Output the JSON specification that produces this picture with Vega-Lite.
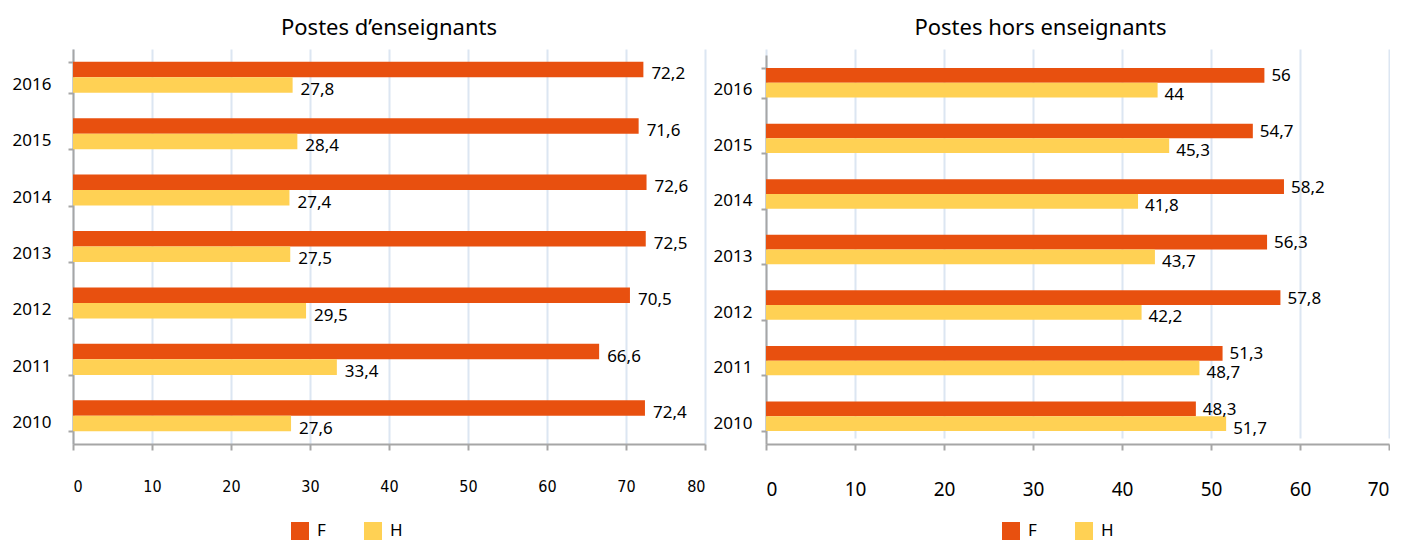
{
 "$schema": "https://vega.github.io/schema/vega-lite/v6.json",
 "padding": {"left": 12, "top": 17, "right": 0, "bottom": 0},
 "spacing": 7,
 "config": {
  "locale": {"number": {"decimal": ",", "thousands": " ", "grouping": [3], "currency": ["", " €"]}},
  "view": {"stroke": null},
  "font": "Noto Sans",
  "axisY": {"domainColor": "#A6A6A6", "domainWidth": 2, "tickColor": "#A6A6A6", "tickWidth": 2, "tickSize": 5, "labelFontSize": 17, "labelOffset": 7, "labelColor": "#000", "title": null, "tickBand": "extent", "grid": false},
  "axisX": {"domainColor": "#A6A6A6", "domainWidth": 2, "tickColor": "#A6A6A6", "tickWidth": 2, "tickSize": 6, "gridColor": "#DCE6F2", "gridWidth": 2, "labelColor": "#000", "title": null},
  "legend": {"orient": "none", "direction": "horizontal", "title": null, "symbolType": "square", "symbolSize": 324, "symbolStrokeWidth": 0, "labelFontSize": 17, "labelColor": "#000", "columnPadding": 38, "labelOffset": 8}
 },
 "datasets": {
  "ens": [
   {"annee": "2016", "sexe": "F", "valeur": 72.2}, {"annee": "2016", "sexe": "H", "valeur": 27.8},
   {"annee": "2015", "sexe": "F", "valeur": 71.6}, {"annee": "2015", "sexe": "H", "valeur": 28.4},
   {"annee": "2014", "sexe": "F", "valeur": 72.6}, {"annee": "2014", "sexe": "H", "valeur": 27.4},
   {"annee": "2013", "sexe": "F", "valeur": 72.5}, {"annee": "2013", "sexe": "H", "valeur": 27.5},
   {"annee": "2012", "sexe": "F", "valeur": 70.5}, {"annee": "2012", "sexe": "H", "valeur": 29.5},
   {"annee": "2011", "sexe": "F", "valeur": 66.6}, {"annee": "2011", "sexe": "H", "valeur": 33.4},
   {"annee": "2010", "sexe": "F", "valeur": 72.4}, {"annee": "2010", "sexe": "H", "valeur": 27.6}
  ],
  "hors": [
   {"annee": "2016", "sexe": "F", "valeur": 56}, {"annee": "2016", "sexe": "H", "valeur": 44},
   {"annee": "2015", "sexe": "F", "valeur": 54.7}, {"annee": "2015", "sexe": "H", "valeur": 45.3},
   {"annee": "2014", "sexe": "F", "valeur": 58.2}, {"annee": "2014", "sexe": "H", "valeur": 41.8},
   {"annee": "2013", "sexe": "F", "valeur": 56.3}, {"annee": "2013", "sexe": "H", "valeur": 43.7},
   {"annee": "2012", "sexe": "F", "valeur": 57.8}, {"annee": "2012", "sexe": "H", "valeur": 42.2},
   {"annee": "2011", "sexe": "F", "valeur": 51.3}, {"annee": "2011", "sexe": "H", "valeur": 48.7},
   {"annee": "2010", "sexe": "F", "valeur": 48.3}, {"annee": "2010", "sexe": "H", "valeur": 51.7}
  ]
 },
 "hconcat": [
  {
   "width": 632, "height": 395,
   "title": {"text": "Postes d’enseignants", "fontSize": 22, "fontWeight": "normal", "offset": 0, "anchor": "middle", "color": "#000"},
   "data": {"name": "ens"},
   "encoding": {
    "y": {"field": "annee", "type": "nominal", "sort": "descending", "scale": {"paddingInner": 0.45, "paddingOuter": 0.225}, "axis": {"labelPadding": 17}},
    "x": {"field": "valeur", "type": "quantitative", "scale": {"domain": [0, 80], "nice": false}, "axis": {"values": [0, 10, 20, 30, 40, 50, 60, 70, 80], "grid": true, "labelFont": "DejaVu Sans Condensed", "labelFontSize": 16, "labelPadding": 28}},
    "yOffset": {"field": "sexe", "type": "nominal", "sort": ["F", "H"]}
   },
   "layer": [
    {"mark": {"type": "bar"}, "encoding": {"color": {"field": "sexe", "type": "nominal", "scale": {"domain": ["F", "H"], "range": ["#E8500F", "#FFD154"]}, "legend": {"legendX": 218, "legendY": 473}}}},
    {"transform": [{"filter": "datum.sexe === 'F'"}], "mark": {"type": "text", "align": "left", "baseline": "middle", "dx": 8, "dy": 5, "fontSize": 17, "color": "#000"}, "encoding": {"text": {"field": "valeur", "type": "quantitative", "format": ".1~f"}}},
    {"transform": [{"filter": "datum.sexe === 'H'"}], "mark": {"type": "text", "align": "left", "baseline": "middle", "dx": 8, "dy": 5, "fontSize": 17, "color": "#000"}, "encoding": {"text": {"field": "valeur", "type": "quantitative", "format": ".1~f"}}}
   ]
  },
  {
   "width": 623, "height": 395,
   "title": {"text": "Postes  hors enseignants", "fontSize": 22, "fontWeight": "normal", "offset": 0, "anchor": "middle", "dx": -37, "color": "#000"},
   "data": {"name": "hors"},
   "encoding": {
    "y": {"field": "annee", "type": "nominal", "sort": "descending", "scale": {"range": [6, 395], "paddingInner": 0.47, "paddingOuter": 0.235}, "axis": {"labelPadding": 9}},
    "x": {"field": "valeur", "type": "quantitative", "scale": {"domain": [0, 70], "nice": false}, "axis": {"values": [0, 10, 20, 30, 40, 50, 60, 70], "grid": true, "labelFontSize": 19, "labelPadding": 30}},
    "yOffset": {"field": "sexe", "type": "nominal", "sort": ["F", "H"]}
   },
   "layer": [
    {"mark": {"type": "bar"}, "encoding": {"color": {"field": "sexe", "type": "nominal", "scale": {"domain": ["F", "H"], "range": ["#E8500F", "#FFD154"]}, "legend": {"legendX": 236, "legendY": 473}}}},
    {"transform": [{"filter": "datum.sexe === 'F'"}], "mark": {"type": "text", "align": "left", "baseline": "middle", "dx": 7, "dy": 1, "fontSize": 17, "color": "#000"}, "encoding": {"text": {"field": "valeur", "type": "quantitative", "format": ".1~f"}}},
    {"transform": [{"filter": "datum.sexe === 'H'"}], "mark": {"type": "text", "align": "left", "baseline": "middle", "dx": 7, "dy": 5, "fontSize": 17, "color": "#000"}, "encoding": {"text": {"field": "valeur", "type": "quantitative", "format": ".1~f"}}}
   ]
  }
 ],
 "resolve": {"scale": {"x": "independent", "y": "independent", "yOffset": "independent", "color": "independent"}, "legend": {"color": "independent"}}
}
